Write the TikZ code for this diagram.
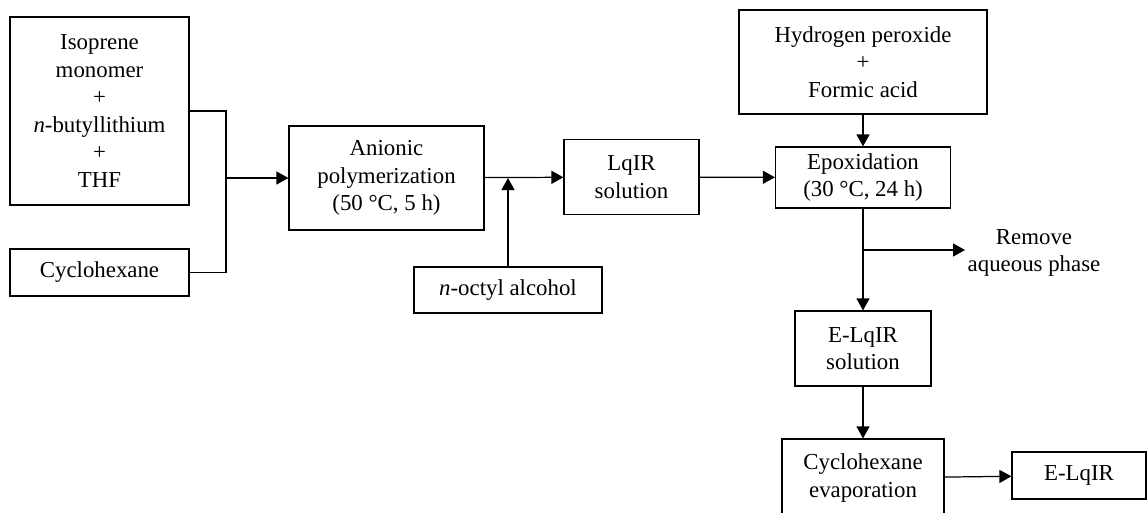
\documentclass[tikz,border=0pt]{standalone}
\usepackage{fontspec}
\setmainfont{Liberation Serif}
\usetikzlibrary{arrows.meta,positioning}

\begin{document}
\begin{tikzpicture}[
  x=0.02cm, y=-0.02cm,
  font=\fontsize{13}{15.7}\selectfont,
  box/.style={draw, line width=0.7pt, align=center, inner sep=0pt},
  arrow/.style={-{Triangle[length=0.24cm, width=0.26cm]}, line width=0.7pt},
  line/.style={line width=0.7pt}
]
\useasboundingbox (0,0) rectangle (1148,512);
% feed side
\node[box, minimum width=3.58cm, minimum height=3.76cm] (mix) at (99.5,111)
  {Isoprene\\monomer\\+\\\textit{n}-butyllithium\\+\\THF};
\node[box, minimum width=3.58cm, minimum height=0.94cm] (cyc) at (99.5,272.5) {Cyclohexane};
\node[box, minimum width=3.9cm, minimum height=2.08cm] (anion) at (386.5,178)
  {Anionic\\polymerization\\(50 °C, 5 h)};
\node[box, minimum width=3.76cm, minimum height=0.92cm] (octyl) at (508,290) {\textit{n}-octyl alcohol};
\node[box, minimum width=2.7cm, minimum height=1.5cm] (lqir) at (631.5,177) {LqIR\\solution};
% epoxidation side
\node[box, minimum width=4.96cm, minimum height=2.08cm] (perox) at (863,62)
  {Hydrogen peroxide\\+\\Formic acid};
\node[box, minimum width=3.5cm, minimum height=1.22cm] (epox) at (863,177.5)
  {Epoxidation\\(30 °C, 24 h)};
\node[box, minimum width=2.72cm, minimum height=1.5cm] (elqsol) at (863,348.5) {E-LqIR\\solution};
\node[box, minimum width=3.24cm, minimum height=1.56cm] (evap) at (863,478)
  {Cyclohexane\\evaporation};
\node[box, minimum width=2.68cm, minimum height=0.94cm] (elqir) at (1079,475.5) {E-LqIR};
\node[align=center, inner sep=0pt] (remove) at (1034,253) {Remove\\aqueous phase};

\coordinate (join) at (226,178);
\coordinate (split) at (863,250);
\coordinate (drain) at (965,250);

\draw[line] (mix.east) -| (join) |- (cyc.east);
\draw[arrow] (join) -- (anion);
\draw[arrow] (anion) -- (lqir);
\draw[arrow] (octyl) -- (octyl |- anion);
\draw[arrow] (lqir) -- (epox);
\draw[arrow] (perox) -- (epox);
\draw[arrow] (epox) -- (elqsol);
\draw[arrow] (split) -- (drain);
\draw[arrow] (elqsol) -- (evap);
\draw[arrow] (evap) -- (elqir);
\end{tikzpicture}
\end{document}
